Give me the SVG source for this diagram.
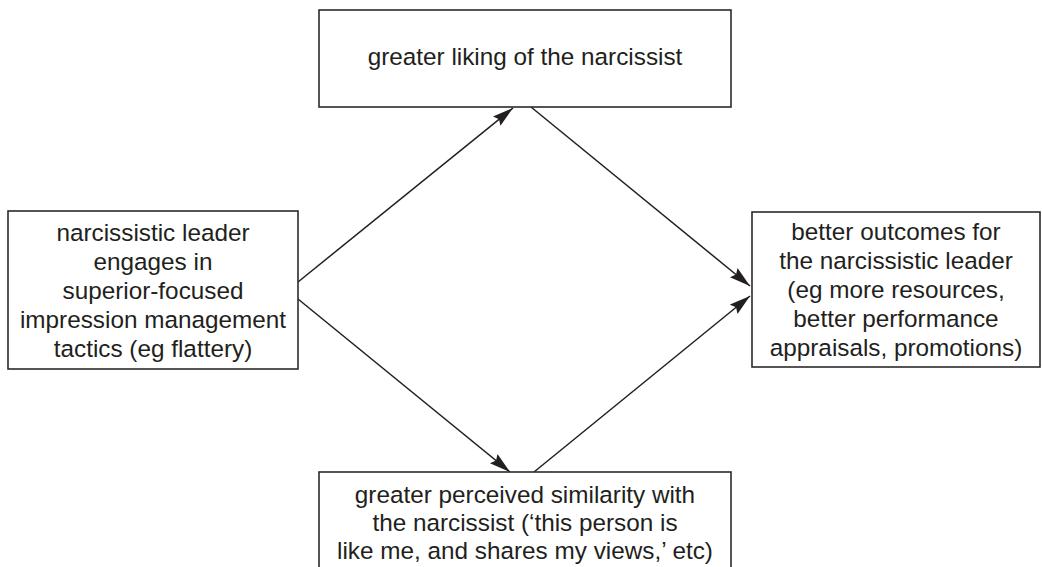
<svg xmlns="http://www.w3.org/2000/svg" width="1042" height="567" viewBox="0 0 1042 567">
<style>
.box{fill:#fff;stroke:#2b2b2b;stroke-width:1.6}
.t{font-family:"Liberation Sans",Arial,sans-serif;font-size:24.3px;fill:#231f20;text-anchor:middle}
.c{stroke:#231f20;stroke-width:1.5;fill:none;marker-end:url(#ah)}
</style>
<defs>
<marker id="ah" markerUnits="userSpaceOnUse" markerWidth="24" markerHeight="14" refX="21" refY="6" orient="auto">
<path d="M0,0 L21,6 L0,12 L3,6 Z" fill="#231f20"/>
</marker>
</defs>
<rect width="1042" height="567" fill="#fff"/>
<g id="connectors">
<line class="c" x1="298" y1="282" x2="513" y2="108"/>
<line class="c" x1="298" y1="299" x2="510" y2="472"/>
<line class="c" x1="531" y1="107" x2="750" y2="286"/>
<line class="c" x1="534" y1="472" x2="750" y2="296"/>
</g>
<g id="top">
<rect class="box" x="319" y="10" width="412" height="97"/>
<text class="t" x="525" y="65">greater liking of the narcissist</text>
</g>
<g id="left">
<rect class="box" x="8" y="211" width="290" height="158"/>
<text class="t" x="153" y="241">narcissistic leader</text>
<text class="t" x="153" y="270">engages in</text>
<text class="t" x="153" y="299">superior-focused</text>
<text class="t" x="153" y="328">impression management</text>
<text class="t" x="153" y="357">tactics (eg flattery)</text>
</g>
<g id="right">
<rect class="box" x="752" y="212" width="288" height="155"/>
<text class="t" x="896" y="240">better outcomes for</text>
<text class="t" x="896" y="269">the narcissistic leader</text>
<text class="t" x="896" y="298">(eg more resources,</text>
<text class="t" x="896" y="327">better performance</text>
<text class="t" x="896" y="356">appraisals, promotions)</text>
</g>
<g id="bottom">
<rect class="box" x="319" y="472" width="412" height="110"/>
<text class="t" x="525" y="503">greater perceived similarity with</text>
<text class="t" x="525" y="531">the narcissist (‘this person is</text>
<text class="t" x="525" y="559">like me, and shares my views,’ etc)</text>
</g>
</svg>
